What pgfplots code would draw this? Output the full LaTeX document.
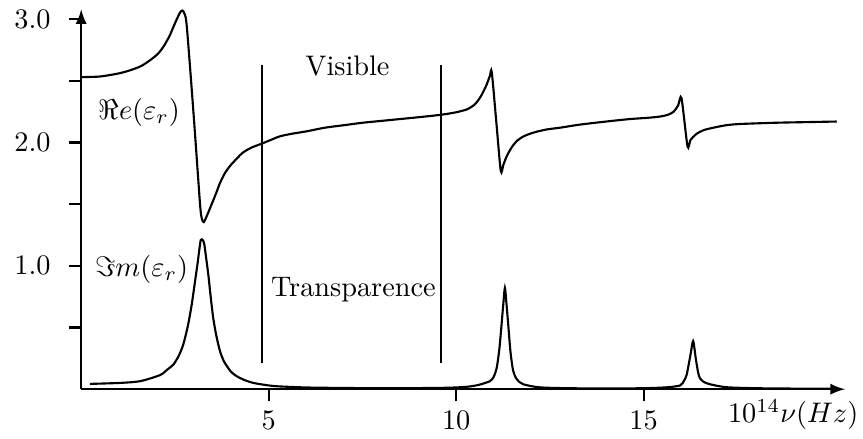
\documentclass[border=0pt]{standalone}
\usepackage{pgfplots}
\pgfplotsset{compat=1.18}
\usepackage{amssymb}
\begin{document}
\begin{tikzpicture}
\begin{axis}[
    scale only axis,
    width=270pt, height=134.3pt,
    xmin=0, xmax=20.37,
    ymin=0, ymax=3.08,
    axis lines=left,
    axis line style={line width=0.8pt, -latex},
    tick align=outside,
    tick style={line width=0.8pt, black},
    xtick={5,10,15},
    ytick={0.5,1,1.5,2,2.5,3},
    yticklabels={,1.0,,2.0,,3.0},
    yticklabel style={xshift=-3pt},
    xlabel={$10^{14}\nu(Hz)$},
    xlabel style={at={(rel axis cs:1,0)}, anchor=north east, inner sep=0pt, xshift=4.9pt, yshift=-3.5pt},
    clip=false,
]
% Re(eps_r)
\addplot[black, line width=0.75pt, smooth, tension=0.45] coordinates {
(0.00,2.53) (0.50,2.535) (1.00,2.56) (1.30,2.585) (1.60,2.62) (1.85,2.67)
(2.05,2.72) (2.20,2.78) (2.35,2.86) (2.45,2.93) (2.55,3.00) (2.64,3.055)
(2.70,3.07) (2.76,3.04) (2.82,2.93) (3.00,2.22) (3.17,1.50) (3.22,1.38)
(3.27,1.355) (3.33,1.39) (3.48,1.50) (3.60,1.59) (3.70,1.67) (3.83,1.75)
(3.97,1.81) (4.15,1.87) (4.32,1.92) (4.55,1.96) (4.81,1.99) (5.05,2.02)
(5.30,2.05) (5.60,2.07) (6.00,2.09) (6.50,2.12) (7.00,2.14) (7.50,2.16)
(8.00,2.175) (8.50,2.19) (9.00,2.205) (9.60,2.225) (10.00,2.245) (10.30,2.27)
(10.50,2.31) (10.65,2.37) (10.80,2.46) (10.90,2.54) (10.95,2.57) (11.07,2.17)
(11.19,1.77) (11.26,1.82) (11.35,1.89) (11.48,1.96) (11.61,2.01) (11.80,2.05)
(12.06,2.08) (12.40,2.105) (12.77,2.12) (13.30,2.145) (14.00,2.17) (14.63,2.19)
(15.10,2.20) (15.43,2.21) (15.65,2.225) (15.80,2.25) (15.92,2.30) (16.01,2.36)
(16.17,1.97) (16.25,2.02) (16.41,2.07) (16.60,2.10) (16.86,2.12) (17.20,2.14)
(17.57,2.15) (18.50,2.16) (19.30,2.165) (20.15,2.17)
};
% Im(eps_r)
\addplot[black, line width=0.75pt, smooth, tension=0.45] coordinates {
(0.23,0.043) (1.04,0.051) (1.57,0.065) (2.10,0.114) (2.30,0.16) (2.46,0.20)
(2.60,0.27) (2.72,0.36) (2.85,0.52) (2.95,0.69) (3.03,0.86) (3.10,1.01)
(3.15,1.13) (3.19,1.21) (3.24,1.21) (3.28,1.18) (3.33,1.07) (3.39,0.93)
(3.45,0.76) (3.52,0.58) (3.60,0.44) (3.70,0.31) (3.80,0.23) (3.88,0.19)
(4.00,0.14) (4.15,0.105) (4.35,0.075) (4.59,0.051) (4.90,0.035) (5.21,0.024)
(6.00,0.014) (7.00,0.010) (8.00,0.008) (9.00,0.009) (9.80,0.012) (10.30,0.020)
(10.60,0.035) (10.90,0.065) (11.00,0.10) (11.08,0.17) (11.15,0.32) (11.21,0.52)
(11.26,0.70) (11.30,0.82) (11.34,0.70) (11.39,0.52) (11.45,0.30) (11.52,0.15)
(11.62,0.08) (11.79,0.04) (12.23,0.015) (13.00,0.008) (14.00,0.006) (15.00,0.008)
(15.60,0.015) (15.97,0.03) (16.08,0.07) (16.15,0.12) (16.25,0.28) (16.32,0.39)
(16.39,0.25) (16.45,0.14) (16.50,0.09) (16.60,0.06) (16.77,0.04) (17.21,0.016)
(18.00,0.008) (19.00,0.005) (20.15,0.004)
};
% bounds of the visible band
\addplot[black, line width=0.9pt] coordinates {(4.82,0.21) (4.82,2.63)};
\addplot[black, line width=0.9pt] coordinates {(9.595,0.21) (9.595,2.63)};
\node[anchor=base] at (axis cs:7.10,2.547) {Visible};
\node[anchor=base] at (axis cs:7.26,0.754) {Transparence};
\node[anchor=base] at (axis cs:1.55,2.19) {$\Re e(\varepsilon_r)$};
\node[anchor=base] at (axis cs:1.61,0.912) {$\Im m(\varepsilon_r)$};
\path (rel axis cs:-0.1063,-0.1159) rectangle (rel axis cs:1.0236,1.0216);
\end{axis}
\end{tikzpicture}
\end{document}
